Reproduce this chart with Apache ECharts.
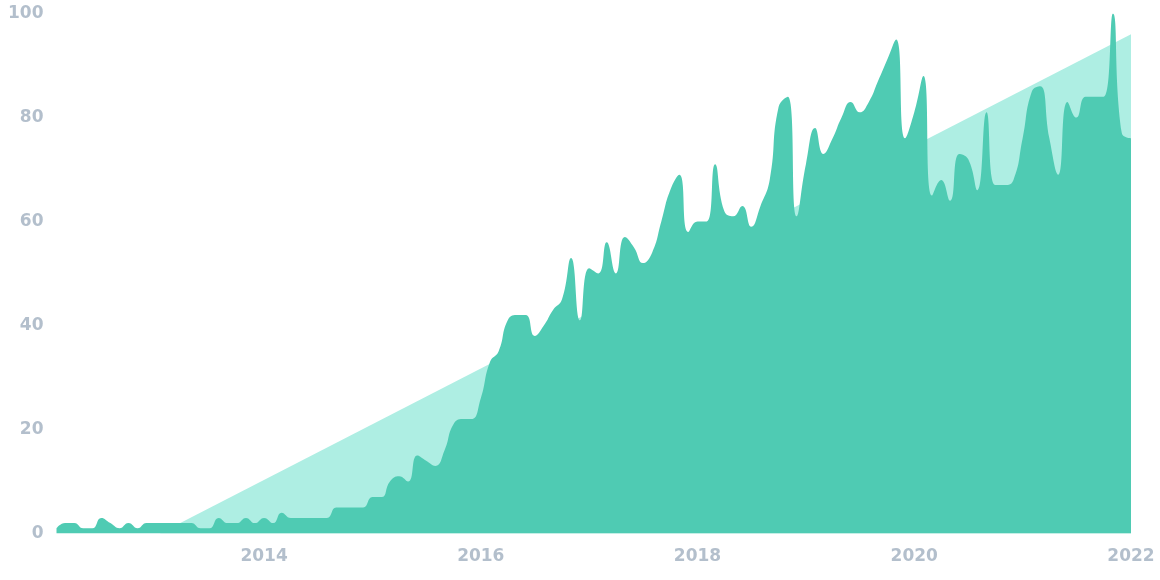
<!DOCTYPE html>
<html>
<head>
<meta charset="utf-8">
<script src="https://cdn.jsdelivr.net/npm/echarts@6/dist/echarts.min.js"></script>
<style>
html,body{margin:0;padding:0;background:#fff;}
#c{width:1160px;height:580px;}
</style>
</head>
<body>
<div id="c"></div>
<script>
// Monthly interest values, Feb 2012 .. Jan 2022
const startYear = 2012, startMonth = 2;
const interest = [
  1,2,2,1,1,3,2,1,2,1,2,2,2,2,2,2,1,1,3,2,
  2,3,2,3,2,4,3,3,3,3,3,5,5,5,5,7,7,10,11,10,
  15,14,13,16,21,22,22,26,33,35,41,42,42,38,40,43,45,53,41,51,
  50,56,50,57,55,52,54,60,66,69,58,60,60,71,62,61,63,59,63,68,
  82,84,61,71,78,73,76,80,83,81,83,87,91,95,76,81,88,65,68,64,
  73,72,66,81,67,67,68,76,85,86,76,69,83,80,84,84,84,100,77,76
];
// Linear trend (start, end)
const trendDates = ['2013-01-15', '2022-01-01'];
const trendValues = [0, 96];
const xTickYears = [2014, 2016, 2018, 2020, 2022];
const yTicks = [0, 20, 40, 60, 80, 100];

// date string -> decimal year (position on the time scale)
function decYear(s) {
  const p = s.split('-').map(Number);
  const t = Date.UTC(p[0], p[1] - 1, p[2]);
  const a = Date.UTC(p[0], 0, 1), b = Date.UTC(p[0] + 1, 0, 1);
  return p[0] + (t - a) / (b - a);
}
function monthDate(i) {
  const m = startMonth - 1 + i;
  const y = startYear + Math.floor(m / 12);
  const mm = (m % 12) + 1;
  return y + '-' + (mm < 10 ? '0' + mm : mm) + '-01';
}
const mainData = interest.map((v, i) => [decYear(monthDate(i)), v]);
const trendData = trendDates.map((d, i) => [decYear(d), trendValues[i]]);

const labelColor = '#b3bfcc';
const chart = echarts.init(document.getElementById('c'), null, {renderer: 'canvas'});
chart.setOption({
  animation: false,
  grid: {left: 56.5, right: 29, top: 13.5, bottom: 46.5, containLabel: false},
  xAxis: {
    type: 'value',
    min: decYear(monthDate(0)),
    max: decYear(monthDate(interest.length - 1)),
    axisLine: {show: false},
    axisTick: {show: false},
    splitLine: {show: false},
    axisLabel: {
      customValues: xTickYears,
      formatter: v => String(Math.round(v)),
      color: labelColor,
      fontFamily: 'DejaVu Sans',
      fontWeight: 'bold',
      fontSize: 17,
      margin: 15
    }
  },
  yAxis: {
    type: 'value',
    min: yTicks[0],
    max: yTicks[yTicks.length - 1],
    interval: 20,
    axisLine: {show: false},
    axisTick: {show: false},
    splitLine: {show: false},
    axisLabel: {
      color: labelColor,
      fontFamily: 'DejaVu Sans',
      fontWeight: 'bold',
      fontSize: 17,
      margin: 13,
      padding: [0, 0, 8, 0]
    }
  },
  series: [
    {
      type: 'line',
      data: trendData,
      symbol: 'none',
      lineStyle: {width: 0},
      areaStyle: {color: '#aeeee3', opacity: 1},
      silent: true,
      z: 1
    },
    {
      type: 'line',
      data: mainData,
      smooth: 0.5,
      symbol: 'none',
      lineStyle: {width: 0},
      areaStyle: {color: '#4fcbb3', opacity: 1},
      silent: true,
      z: 2
    }
  ]
});
</script>
</body>
</html>
